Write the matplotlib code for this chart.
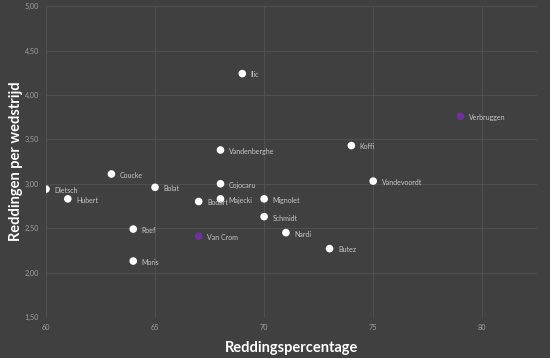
import matplotlib.pyplot as plt
from matplotlib.ticker import FuncFormatter

players = ["Ilic", "Verbruggen", "Koffi", "Vandenberghe", "Coucke", "Vandevoordt",
           "Dietsch", "Bolat", "Cojocaru", "Hubert", "Majecki", "Mignolet", "Bodart",
           "Schmidt", "Roef", "Nardi", "Van Crom", "Butez", "Moris"]
save_pct = [69, 79, 74, 68, 63, 75, 60, 65, 68, 61, 68, 70, 67, 70, 64, 71, 67, 73, 64]
saves_per_game = [4.24, 3.76, 3.43, 3.38, 3.11, 3.03, 2.94, 2.96, 3.00, 2.83, 2.83,
                  2.83, 2.80, 2.63, 2.49, 2.45, 2.41, 2.27, 2.13]
highlight = ["Verbruggen", "Van Crom"]

plt.rcParams["font.family"] = ["Lato", "DejaVu Sans"]

bg = "#404040"
fig = plt.figure(figsize=(5.5, 3.58), dpi=100, facecolor=bg)
ax = fig.add_axes([0.0836, 0.1145, 0.8924, 0.8685], facecolor=bg)

colors = ["#7030a0" if p in highlight else "white" for p in players]
ax.scatter(save_pct, saves_per_game, s=30, c=colors, zorder=3, linewidths=0)

for name, x, y in zip(players, save_pct, saves_per_game):
    ax.annotate(name, (x, y), xytext=(6, -1), textcoords="offset points",
                fontsize=5, color="#c8c8c8", va="center", zorder=4)

ax.set_xlim(60, 82.5)
ax.set_ylim(1.5, 5.0)
ax.set_xticks([60, 65, 70, 75, 80])
ax.set_yticks([1.5, 2.0, 2.5, 3.0, 3.5, 4.0, 4.5, 5.0])
ax.yaxis.set_major_formatter(FuncFormatter(lambda v, p: f"{v:.2f}".replace(".", ",")))
ax.tick_params(colors="#a0a0a0", labelsize=5.2, length=0, pad=5)
ax.grid(True, color="#505050", linewidth=0.8)
ax.set_axisbelow(True)
for s in ax.spines.values():
    s.set_visible(False)

ax.set_xlabel("Reddingspercentage", color="white", fontsize=10.5, fontweight="bold",
              labelpad=7)
ax.set_ylabel("Reddingen per wedstrijd", color="white", fontsize=10.5, fontweight="bold",
              labelpad=1)

fig.savefig("out.png", dpi=100, facecolor=bg)
